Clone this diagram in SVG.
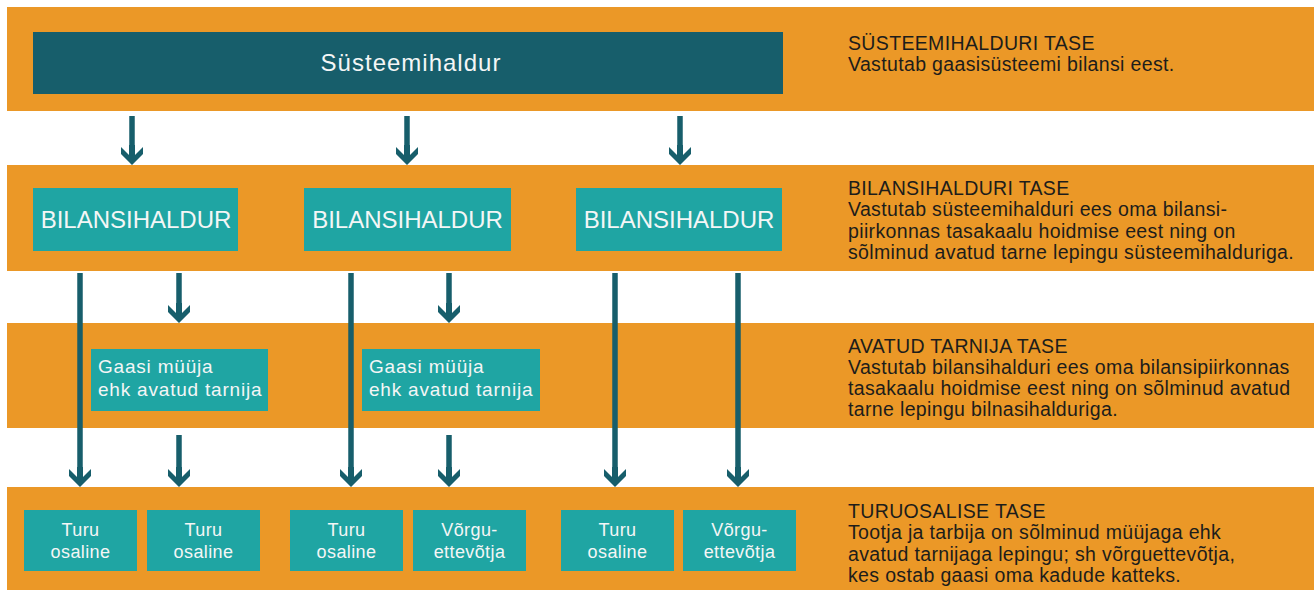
<svg xmlns="http://www.w3.org/2000/svg" width="1314" height="590" viewBox="0 0 1314 590">
  <style>
    .band { fill: #EB9827; }
    .dark { fill: #175E6B; }
    .box { fill: #1FA5A3; }
    .wt { fill: #F4F6F6; font-family: "Liberation Sans", Arial, sans-serif; }
    .big { font-size: 24px; text-anchor: middle; }
    .mid { font-size: 19px; letter-spacing: 0.8px; }
    .sm { font-size: 18px; text-anchor: middle; letter-spacing: 0.4px; }
    .lvl { fill: #1D1D1B; font-family: "Liberation Sans", Arial, sans-serif; font-size: 19.5px; letter-spacing: 0.35px; }
    .conn { stroke: #175E6B; stroke-width: 5.5; fill: none; }
  </style>
  <defs>
    <marker id="ah" markerUnits="userSpaceOnUse" orient="auto" refX="-4" refY="0" overflow="visible" markerWidth="30" markerHeight="30">
      <polygon points="0,0 -11,-11 -18,-11 -10,-3 -20,-3 -20,3 -10,3 -18,11 -11,11" fill="#175E6B"/>
    </marker>
  </defs>

  <g id="bands">
    <rect class="band" x="7" y="7" width="1307" height="104"/>
    <rect class="band" x="7" y="165" width="1307" height="106"/>
    <rect class="band" x="7" y="323" width="1307" height="105"/>
    <rect class="band" x="7" y="487" width="1307" height="103"/>
  </g>

  <g id="connectors">
    <path class="conn" marker-end="url(#ah)" d="M132,116 V161"/>
    <path class="conn" marker-end="url(#ah)" d="M407,116 V161"/>
    <path class="conn" marker-end="url(#ah)" d="M680,116 V161"/>

    <path class="conn" marker-end="url(#ah)" d="M80,273 V483"/>
    <path class="conn" marker-end="url(#ah)" d="M179,273 V319"/>
    <path class="conn" marker-end="url(#ah)" d="M351,273 V483"/>
    <path class="conn" marker-end="url(#ah)" d="M449,273 V319"/>
    <path class="conn" marker-end="url(#ah)" d="M615,273 V483"/>
    <path class="conn" marker-end="url(#ah)" d="M738,273 V483"/>

    <path class="conn" marker-end="url(#ah)" d="M179,435 V483"/>
    <path class="conn" marker-end="url(#ah)" d="M449,435 V483"/>
  </g>

  <g id="systeemihaldur">
    <rect class="dark" x="33" y="32" width="750" height="62"/>
    <text class="wt big" x="411" y="71" letter-spacing="1">Süsteemihaldur</text>
  </g>

  <g id="bilansihaldur1">
    <rect class="box" x="33" y="188" width="205" height="63"/>
    <text class="wt big" x="136" y="228">BILANSIHALDUR</text>
  </g>
  <g id="bilansihaldur2">
    <rect class="box" x="304" y="188" width="207" height="63"/>
    <text class="wt big" x="407.5" y="228">BILANSIHALDUR</text>
  </g>
  <g id="bilansihaldur3">
    <rect class="box" x="576" y="188" width="206" height="63"/>
    <text class="wt big" x="679" y="228">BILANSIHALDUR</text>
  </g>

  <g id="tarnija1">
    <rect class="box" x="91" y="349" width="177" height="62"/>
    <text class="wt mid" x="98" y="373">Gaasi müüja</text>
    <text class="wt mid" x="98" y="396">ehk avatud tarnija</text>
  </g>
  <g id="tarnija2">
    <rect class="box" x="362" y="349" width="178" height="62"/>
    <text class="wt mid" x="369" y="373">Gaasi müüja</text>
    <text class="wt mid" x="369" y="396">ehk avatud tarnija</text>
  </g>

  <g id="turu1">
    <rect class="box" x="24" y="510" width="113" height="61"/>
    <text class="wt sm" x="80.5" y="536">Turu</text>
    <text class="wt sm" x="80.5" y="558">osaline</text>
  </g>
  <g id="turu2">
    <rect class="box" x="147" y="510" width="113" height="61"/>
    <text class="wt sm" x="203.5" y="536">Turu</text>
    <text class="wt sm" x="203.5" y="558">osaline</text>
  </g>
  <g id="turu3">
    <rect class="box" x="290" y="510" width="113" height="61"/>
    <text class="wt sm" x="346.5" y="536">Turu</text>
    <text class="wt sm" x="346.5" y="558">osaline</text>
  </g>
  <g id="vorgu1">
    <rect class="box" x="413" y="510" width="113" height="61"/>
    <text class="wt sm" x="469.5" y="536">Võrgu-</text>
    <text class="wt sm" x="469.5" y="558">ettevõtja</text>
  </g>
  <g id="turu4">
    <rect class="box" x="561" y="510" width="113" height="61"/>
    <text class="wt sm" x="617.5" y="536">Turu</text>
    <text class="wt sm" x="617.5" y="558">osaline</text>
  </g>
  <g id="vorgu2">
    <rect class="box" x="683" y="510" width="113" height="61"/>
    <text class="wt sm" x="739.5" y="536">Võrgu-</text>
    <text class="wt sm" x="739.5" y="558">ettevõtja</text>
  </g>

  <g id="level1">
    <text class="lvl" x="848" y="50">SÜSTEEMIHALDURI TASE</text>
    <text class="lvl" x="848" y="71">Vastutab gaasisüsteemi bilansi eest.</text>
  </g>
  <g id="level2">
    <text class="lvl" x="848" y="195">BILANSIHALDURI TASE</text>
    <text class="lvl" x="848" y="216">Vastutab süsteemihalduri ees oma bilansi-</text>
    <text class="lvl" x="848" y="238">piirkonnas tasakaalu hoidmise eest ning on</text>
    <text class="lvl" x="848" y="259">sõlminud avatud tarne lepingu süsteemihalduriga.</text>
  </g>
  <g id="level3">
    <text class="lvl" x="848" y="353">AVATUD TARNIJA TASE</text>
    <text class="lvl" x="848" y="374">Vastutab bilansihalduri ees oma bilansipiirkonnas</text>
    <text class="lvl" x="848" y="395">tasakaalu hoidmise eest ning on sõlminud avatud</text>
    <text class="lvl" x="848" y="416">tarne lepingu bilnasihalduriga.</text>
  </g>
  <g id="level4">
    <text class="lvl" x="848" y="518">TURUOSALISE TASE</text>
    <text class="lvl" x="848" y="539">Tootja ja tarbija on sõlminud müüjaga ehk</text>
    <text class="lvl" x="848" y="561">avatud tarnijaga lepingu; sh võrguettevõtja,</text>
    <text class="lvl" x="848" y="582">kes ostab gaasi oma kadude katteks.</text>
  </g>
</svg>
